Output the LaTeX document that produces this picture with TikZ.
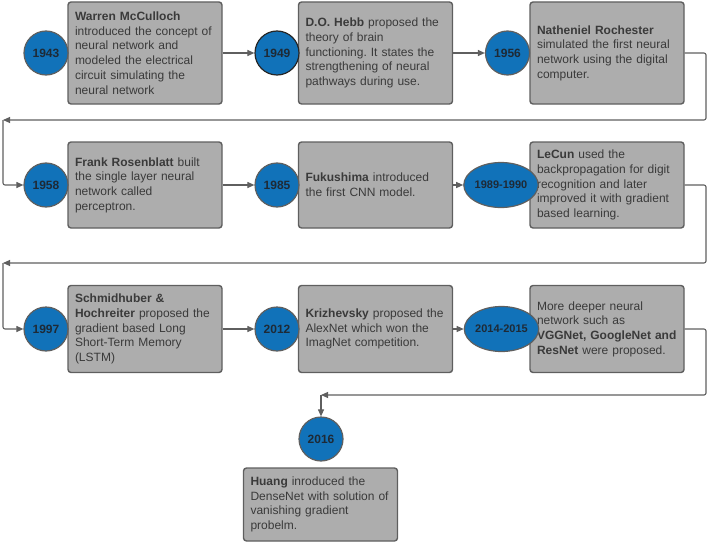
\documentclass[tikz,border=0pt]{standalone}
\usepackage{fontspec}
\setmainfont{Liberation Sans}
\usetikzlibrary{arrows.meta,shapes.geometric}
\frenchspacing
\definecolor{yrblue}{HTML}{1172B9}
\definecolor{cardgray}{HTML}{ADADAD}
\definecolor{rimgray}{HTML}{5F5F5F}
\definecolor{txtgray}{HTML}{3A3A3A}
\definecolor{yrtext}{HTML}{1E2A36}
\tikzset{yr/.style={circle, draw=rimgray, line width=1.2pt, fill=yrblue, minimum size=44pt, inner sep=0pt, text=yrtext, font=\bfseries\fontsize{12}{14}\selectfont}}
\tikzset{yrwide/.style={yr, ellipse, minimum width=55pt, minimum height=45pt, font=\bfseries\fontsize{11}{12}\selectfont}}
\tikzset{card/.style={draw=rimgray, line width=1.4pt, rounded corners=3pt, fill=cardgray, text=txtgray, text width=140pt, inner xsep=7pt, inner ysep=0pt, align=left, font=\fontsize{12}{14.7}\selectfont}}
\tikzset{link/.style={color=rimgray, line width=1.1pt, rounded corners=2pt, -{Triangle[length=7pt,width=6pt]}}}

\begin{document}
\begin{tikzpicture}[x=1pt,y=-1pt]
  \useasboundingbox (0,0) rectangle (709,543);

  % first row
  \node[card, minimum height=102pt] (b1943) at (145,53) {\textbf{Warren McCulloch}\\introduced the concept of\\neural network and\\modeled the electrical\\circuit simulating the\\neural network};
  \node[card, minimum height=102pt] (b1949) at (375.5,53) {\textbf{D.O. Hebb} proposed the\\theory of brain\\functioning. It states the\\strengthening of neural\\pathways during use.};
  \node[card, minimum height=102pt] (b1956) at (607,53) {\textbf{Natheniel Rochester}\\simulated the first neural\\network using the digital\\computer.};
  \node[yr] (y1943) at (46,53) {1943};
  \node[yr, draw=black!85] (y1949) at (277,53) {1949};
  \node[yr] (y1956) at (507.5,53) {1956};

  % second row
  \node[card, minimum height=86pt] (b1958) at (145,185) {\textbf{Frank Rosenblatt} built\\the single layer neural\\network called\\perceptron.};
  \node[card, minimum height=86pt] (b1985) at (375.5,185) {\textbf{Fukushima} introduced\\the first CNN model.};
  \node[card, minimum height=86pt] (b1989) at (607,185) {\textbf{LeCun} used the\\backpropagation for digit\\recognition and later\\improved it with gradient\\based learning.};
  \node[yr] (y1958) at (46,185) {1958};
  \node[yr] (y1985) at (277,185) {1985};
  \node[yrwide] (y1989) at (501,185) {1989-1990};

  % third row
  \node[card, minimum height=87pt] (b1997) at (145,329) {\textbf{Schmidhuber \&}\\\textbf{Hochreiter} proposed the\\gradient based Long\\Short-Term Memory\\(LSTM)};
  \node[card, minimum height=87pt] (b2012) at (375.5,329) {\textbf{Krizhevsky} proposed the\\AlexNet which won the\\ImagNet competition.};
  \node[card, minimum height=87pt] (b2014) at (607,329) {More deeper neural\\network such as\\\textbf{VGGNet, GoogleNet and}\\\textbf{ResNet} were proposed.};
  \node[yr] (y1997) at (46,329) {1997};
  \node[yr] (y2012) at (277,329) {2012};
  \node[yrwide] (y2014) at (501.5,329) {2014-2015};

  % last one
  \node[yr] (y2016) at (321,439) {2016};
  \node[card, minimum height=73pt] (b2016) at (320.5,504.5) {\textbf{Huang} inroduced the\\DenseNet with solution of\\vanishing gradient\\probelm.};

  \foreach \a/\b in {b1943/y1949,b1949/y1956,b1958/y1985,b1985/y1989,b1997/y2012,b2012/y2014}
    \draw[link] (\a.east) -- (\b.west);

  \coordinate (edge1) at (706,120);
  \coordinate (turn1) at (3,120);
  \coordinate (edge2) at (706,263);
  \coordinate (turn2) at (3,263);
  \coordinate (edge3) at (706,395);
  \coordinate (turn3) at (321,395);

  \draw[link] (b1956.east) -| (edge1) -- (turn1);
  \draw[link] (turn1) |- (y1958.west);
  \draw[link] (b1989.east) -| (edge2) -- (turn2);
  \draw[link] (turn2) |- (y1997.west);
  \draw[link] (b2014.east) -| (edge3) -- (turn3);
  \draw[link] (turn3) -- (y2016.north);
\end{tikzpicture}
\end{document}
